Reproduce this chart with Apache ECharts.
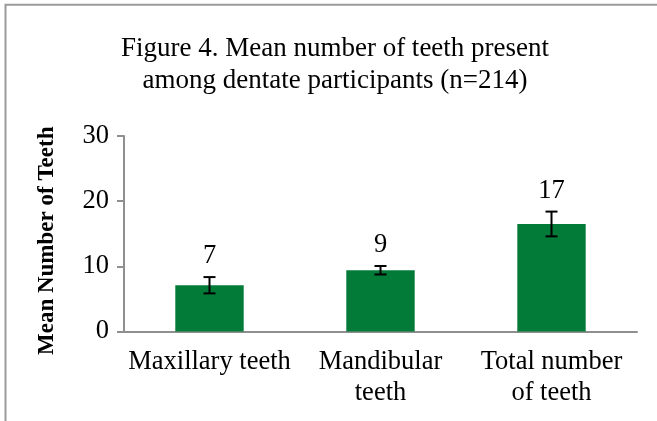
<!DOCTYPE html>
<html>
<head>
<meta charset="utf-8">
<script src="https://cdn.jsdelivr.net/npm/echarts@6/dist/echarts.min.js"></script>
<style>html,body{margin:0;padding:0;background:#fff;}#c{width:657px;height:421px;}</style>
</head>
<body>
<div id="c"></div>
<script>
const categories = ['Maxillary teeth', 'Mandibular\nteeth', 'Total number\nof teeth'];
const means = [7.1, 9.4, 16.5];
const errors = [1.25, 0.65, 1.9];
const yTicks = { min: 0, max: 30, interval: 10 };

const FONT = "'Liberation Serif', 'Times New Roman', serif";
const AXIS = '#8F8F8F';

const chart = echarts.init(document.getElementById('c'), null, { renderer: 'canvas' });

const errData = means.map((m, i) => [i, m - errors[i], m + errors[i], m]);

chart.setOption({
  animation: false,
  backgroundColor: '#fff',
  title: {
    text: 'Figure 4. Mean number of teeth present\namong dentate participants (n=214)',
    left: 330, top: 28, textAlign: 'center',
    textStyle: { fontFamily: FONT, fontSize: 27, fontWeight: 'normal', color: '#000', lineHeight: 32 }
  },
  graphic: [{
    type: 'rect', silent: true,
    shape: { x: 5.5, y: 4.7, width: 720, height: 520 },
    style: { fill: 'none', stroke: '#9A9A9A', lineWidth: 2 }
  }],
  grid: { left: 124, right: 20, top: 136, bottom: 89.5 },
  xAxis: {
    type: 'category', data: categories,
    axisLine: { lineStyle: { color: AXIS, width: 2 } },
    axisTick: { length: 6, lineStyle: { color: AXIS, width: 2 } },
    axisLabel: { fontFamily: FONT, fontSize: 26.5, color: '#000', margin: 15, lineHeight: 31, interval: 0 }
  },
  yAxis: {
    type: 'value', min: yTicks.min, max: yTicks.max, interval: yTicks.interval,
    name: 'Mean Number of Teeth', nameLocation: 'middle', nameGap: 65, nameRotate: 90,
    nameTextStyle: { fontFamily: FONT, fontSize: 23, fontWeight: 'bold', color: '#000', padding: [0, 14, 0, 0] },
    axisLine: { show: true, lineStyle: { color: AXIS, width: 2 } },
    axisTick: { show: true, length: 7, lineStyle: { color: AXIS, width: 2 } },
    splitLine: { show: false },
    axisLabel: { fontFamily: FONT, fontSize: 26.5, color: '#000', margin: 15 }
  },
  series: [{
    type: 'bar', data: means, barWidth: '40%',
    itemStyle: { color: '#027A38' }
  }, {
    type: 'custom', data: errData, z: 10,
    renderItem: function (params, api) {
      const x = api.coord([api.value(0), 0])[0];
      const lo = api.coord([api.value(0), api.value(1)])[1];
      const hi = api.coord([api.value(0), api.value(2)])[1];
      const st = { stroke: '#000', lineWidth: 2 };
      return {
        type: 'group',
        children: [
          { type: 'line', shape: { x1: x, y1: lo, x2: x, y2: hi }, style: st },
          { type: 'line', shape: { x1: x - 6, y1: lo, x2: x + 6, y2: lo }, style: st },
          { type: 'line', shape: { x1: x - 6, y1: hi, x2: x + 6, y2: hi }, style: st },
          { type: 'text', x: x, y: hi - 21,
            style: { text: String(Math.round(api.value(3))), fontFamily: FONT, fontSize: 26.5, fill: '#000', align: 'center', verticalAlign: 'middle' } }
        ]
      };
    }
  }]
});
</script>
</body>
</html>
